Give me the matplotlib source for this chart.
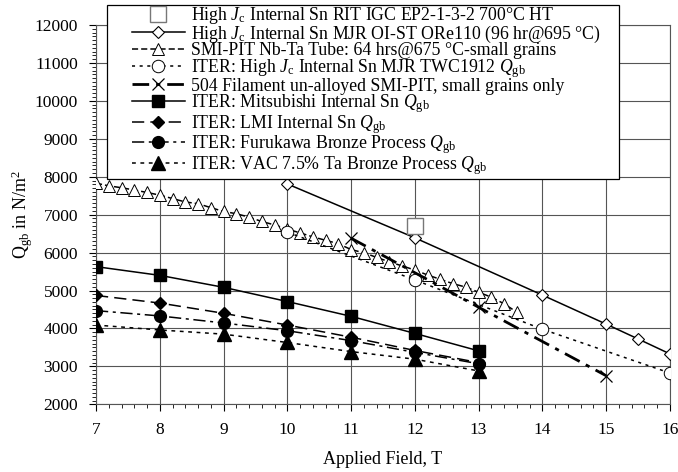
import matplotlib
matplotlib.use("Agg")
import matplotlib.pyplot as plt
from matplotlib.ticker import MultipleLocator
from matplotlib.patches import Rectangle

plt.rcParams['font.family'] = ['Liberation Serif', 'DejaVu Serif']
plt.rcParams['mathtext.fontset'] = 'custom'
plt.rcParams['mathtext.rm'] = 'Liberation Serif'
plt.rcParams['mathtext.it'] = 'Liberation Serif:italic'
plt.rcParams['mathtext.bf'] = 'Liberation Serif:bold'

# ---- data ----
rit_x = [12]
rit_y = [6700]

mjr_x = [10, 12, 14, 15, 15.5, 16]
mjr_y = [7810, 6390, 4880, 4115, 3725, 3330]

smi_x = [7.0, 7.2, 7.4, 7.6, 7.8, 8.0, 8.2, 8.4, 8.6, 8.8, 9.0, 9.2, 9.4, 9.6, 9.8,
         10.0, 10.2, 10.4, 10.6, 10.8, 11.0, 11.2, 11.4, 11.6, 11.8, 12.0, 12.2,
         12.4, 12.6, 12.8, 13.0, 13.2, 13.4, 13.6]
smi_y = [7830, 7760, 7710, 7650, 7585, 7515, 7425, 7335, 7290, 7185, 7085, 7025,
         6935, 6820, 6730, 6620, 6520, 6415, 6325, 6235, 6080, 5995, 5875, 5755,
         5650, 5540, 5410, 5295, 5180, 5090, 4955, 4825, 4650, 4430]

twc_x = [10, 12, 14, 16]
twc_y = [6540, 5280, 3980, 2825]

fil_x = [11, 13, 15]
fil_y = [6380, 4560, 2755]

mit_x = [7, 8, 9, 10, 11, 12, 13]
mit_y = [5630, 5400, 5085, 4710, 4320, 3870, 3410]

lmi_x = [7, 8, 9, 10, 11, 12, 13]
lmi_y = [4870, 4670, 4400, 4090, 3770, 3420, 3100]

fur_x = [7, 8, 9, 10, 11, 12, 13]
fur_y = [4470, 4330, 4145, 3940, 3680, 3370, 3070]

vac_x = [7, 8, 9, 10, 11, 12, 13]
vac_y = [4090, 3960, 3850, 3630, 3390, 3190, 2880]

labels = [
    r"High $J_{\rm c}$ Internal Sn RIT IGC EP2-1-3-2 700°C HT",
    r"High $J_{\rm c}$ Internal Sn MJR OI-ST ORe110 (96 hr@695 °C)",
    r"SMI-PIT Nb-Ta Tube: 64 hrs@675 °C-small grains",
    r"ITER: High $J_{\rm c}$ Internal Sn MJR TWC1912 $Q_{\rm gb}$",
    r"504 Filament un-alloyed SMI-PIT, small grains only",
    r"ITER: Mitsubishi Internal Sn $Q_{\rm gb}$",
    r"ITER: LMI Internal Sn $Q_{\rm gb}$",
    r"ITER: Furukawa Bronze Process $Q_{\rm gb}$",
    r"ITER: VAC 7.5% Ta Bronze Process $Q_{\rm gb}$",
]

W, H = 678, 472
fig = plt.figure(figsize=(W / 100, H / 100), dpi=100)
ax = fig.add_axes([0.1416, 0.1434, 0.988 - 0.1416, 0.947 - 0.1434])

lw = 1.1
ax.plot(rit_x, rit_y, linestyle='none', marker='s', ms=11, mfc='white', mec='#777777',
        mew=1.0, label=labels[0], zorder=5)
ax.plot(mjr_x, mjr_y, '-', color='black', lw=lw, marker='D', ms=6.5, mfc='white',
        mec='black', mew=0.8, label=labels[1], zorder=4)
ax.plot(smi_x, smi_y, color='black', lw=lw, dashes=(4, 2), marker='^', ms=8.5,
        mfc='white', mec='black', mew=0.7, label=labels[2], zorder=3)
ax.plot(twc_x, twc_y, color='black', lw=lw, dashes=(2, 3), marker='o', ms=9,
        mfc='white', mec='black', mew=0.7, label=labels[3], zorder=4)
ax.plot(fil_x, fil_y, color='black', lw=2.0, dashes=(6, 2.5, 1.5, 2.5), marker='x',
        ms=9, mec='black', mew=0.9, label=labels[4], zorder=4)
ax.plot(mit_x, mit_y, '-', color='black', lw=lw, marker='s', ms=8.5, mfc='black',
        mec='black', label=labels[5], zorder=4)
ax.plot(lmi_x, lmi_y, color='black', lw=lw, dashes=(8, 4), marker='D', ms=6,
        mfc='black', mec='black', label=labels[6], zorder=4)
ax.plot(fur_x, fur_y, color='black', lw=lw, dashes=(8, 3, 2, 3), marker='o', ms=8.5,
        mfc='black', mec='black', label=labels[7], zorder=4)
ax.plot(vac_x, vac_y, color='black', lw=lw, dashes=(2.5, 3), marker='^', ms=9.5,
        mfc='black', mec='black', label=labels[8], zorder=4)

ax.set_xlim(7, 16)
ax.set_ylim(2000, 12000)
ax.xaxis.set_major_locator(MultipleLocator(1))
ax.xaxis.set_minor_locator(MultipleLocator(0.2))
ax.yaxis.set_major_locator(MultipleLocator(1000))
ax.yaxis.set_minor_locator(MultipleLocator(100))
ax.tick_params(which='major', direction='out', length=5, width=0.8, labelsize=12.5, pad=8)
ax.tick_params(which='minor', direction='out', length=3, width=0.6)
ax.grid(True, which='major', color='#555555', lw=0.8)
for s in ax.spines.values():
    s.set_color('#555555')
    s.set_linewidth(0.8)

ax.set_xlabel("Applied Field, T", fontsize=13, labelpad=9)
ax.set_ylabel(r"Q$_{\rm gb}$ in N/m$^2$", fontsize=13, labelpad=0)

# legend frame (drawn separately so the inner padding matches)
x0, y0, x1, y1 = 107, 5, 619, 179
frame = Rectangle((x0 / W, 1 - y1 / H), (x1 - x0) / W, (y1 - y0) / H,
                  transform=fig.transFigure, facecolor='white', edgecolor='black',
                  lw=0.9, zorder=8)
fig.patches.append(frame)

leg = fig.legend(loc='upper left', bbox_to_anchor=(130 / W, 1 - 3 / H),
                 fontsize=12.8, frameon=False, handlelength=3.0,
                 labelspacing=-0.13, borderpad=0.1, handletextpad=0.35,
                 borderaxespad=0)
leg.set_zorder(10)

fig.savefig("out.png", dpi=100)
